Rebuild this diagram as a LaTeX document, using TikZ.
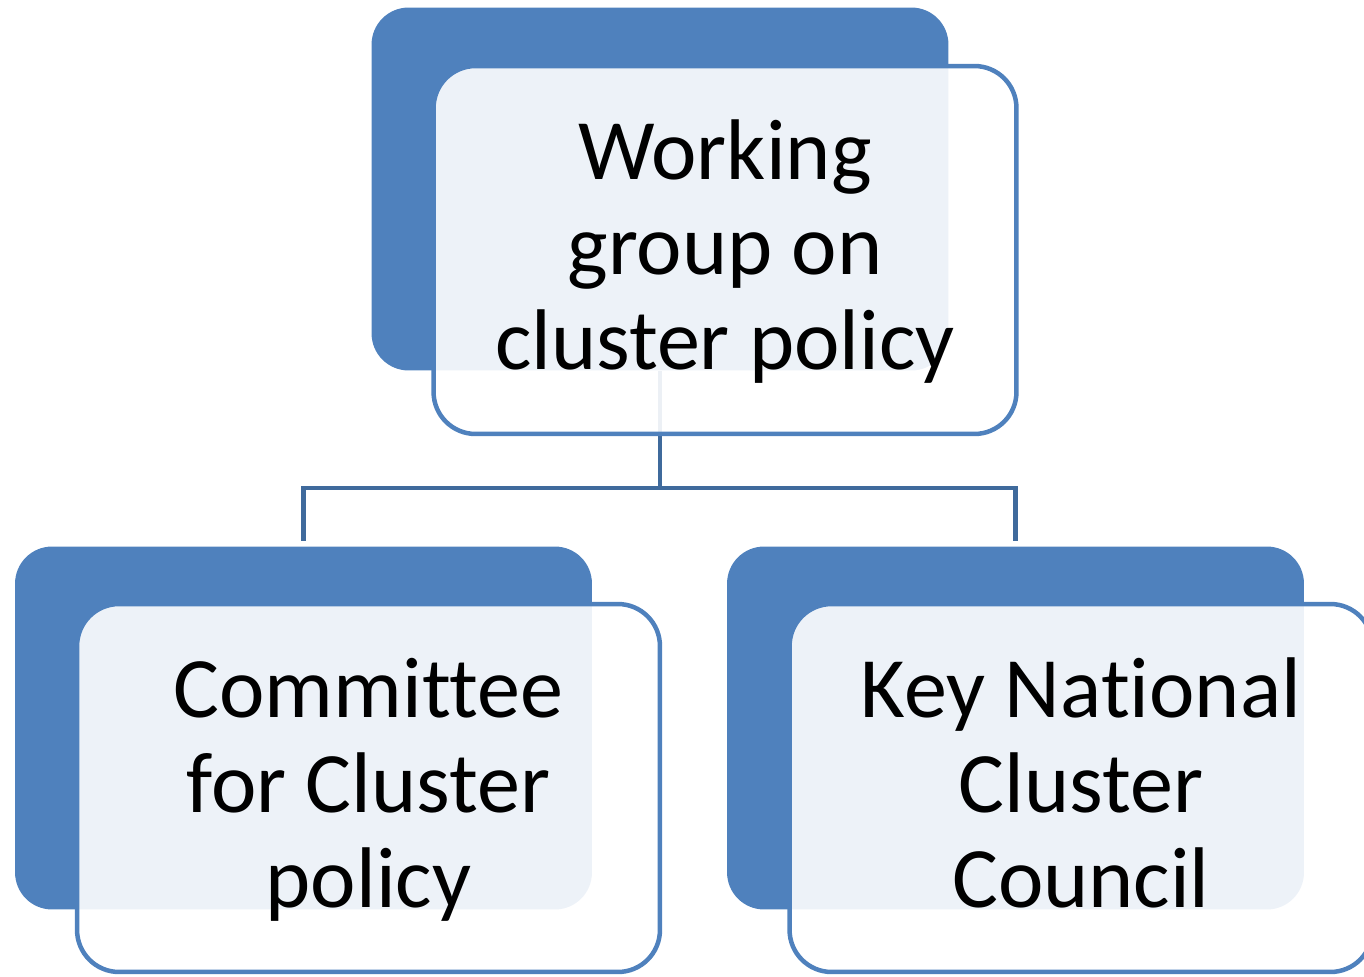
\documentclass[tikz,border=0pt]{standalone}
\usepackage{fontspec}
\setmainfont[Ligatures=CommonOff]{Carlito}
\usetikzlibrary{positioning}

\definecolor{accentblue}{HTML}{4F81BD}
\definecolor{linkblue}{HTML}{3F6A9C}

\begin{document}
\begin{tikzpicture}[
    x = 0.02cm, y = -0.02cm, % one unit = one pixel, y downwards
    back/.style = {rectangle, rounded corners = 0.74cm, fill = accentblue,
        inner sep = 0pt, minimum width = 11.54cm, minimum height = 7.26cm},
    front/.style = {rectangle, rounded corners = 0.84cm, draw = accentblue,
        line width = 0.09cm, fill = white, fill opacity = 0.9, text opacity = 1,
        inner sep = 0pt, minimum width = 11.66cm, minimum height = 7.36cm,
        align = center, font = \fontsize{49}{54}\selectfont,
        text height = 152pt, text depth = 16pt},
    link/.style = {draw = linkblue, line width = 0.09cm, shorten > = 0.1cm}
    ]
    \useasboundingbox (0,0) rectangle (1364,976);

    % back boxes
    \node[back] (wgback)  at (660,189)    {};
    \node[back] (cfcback) at (303.5,728)  {};
    \node[back] (kncback) at (1015.5,728) {};

    % connectors
    \coordinate (split) at (660,488);
    \draw[link, shorten > = 0pt] (wgback.south) -- (split);
    \draw[link] (split) -| (cfcback.north);
    \draw[link] (split) -| (kncback.north);

    % front boxes
    \node[front] (wg)  at (725,250)  {Working\\group on\\cluster policy};
    \node[front] (cfc) at (368.5,788) {Committee\\for Cluster\\policy};
    \node[front] (knc) at (1081,788) {Key National\\Cluster\\Council};
\end{tikzpicture}
\end{document}
